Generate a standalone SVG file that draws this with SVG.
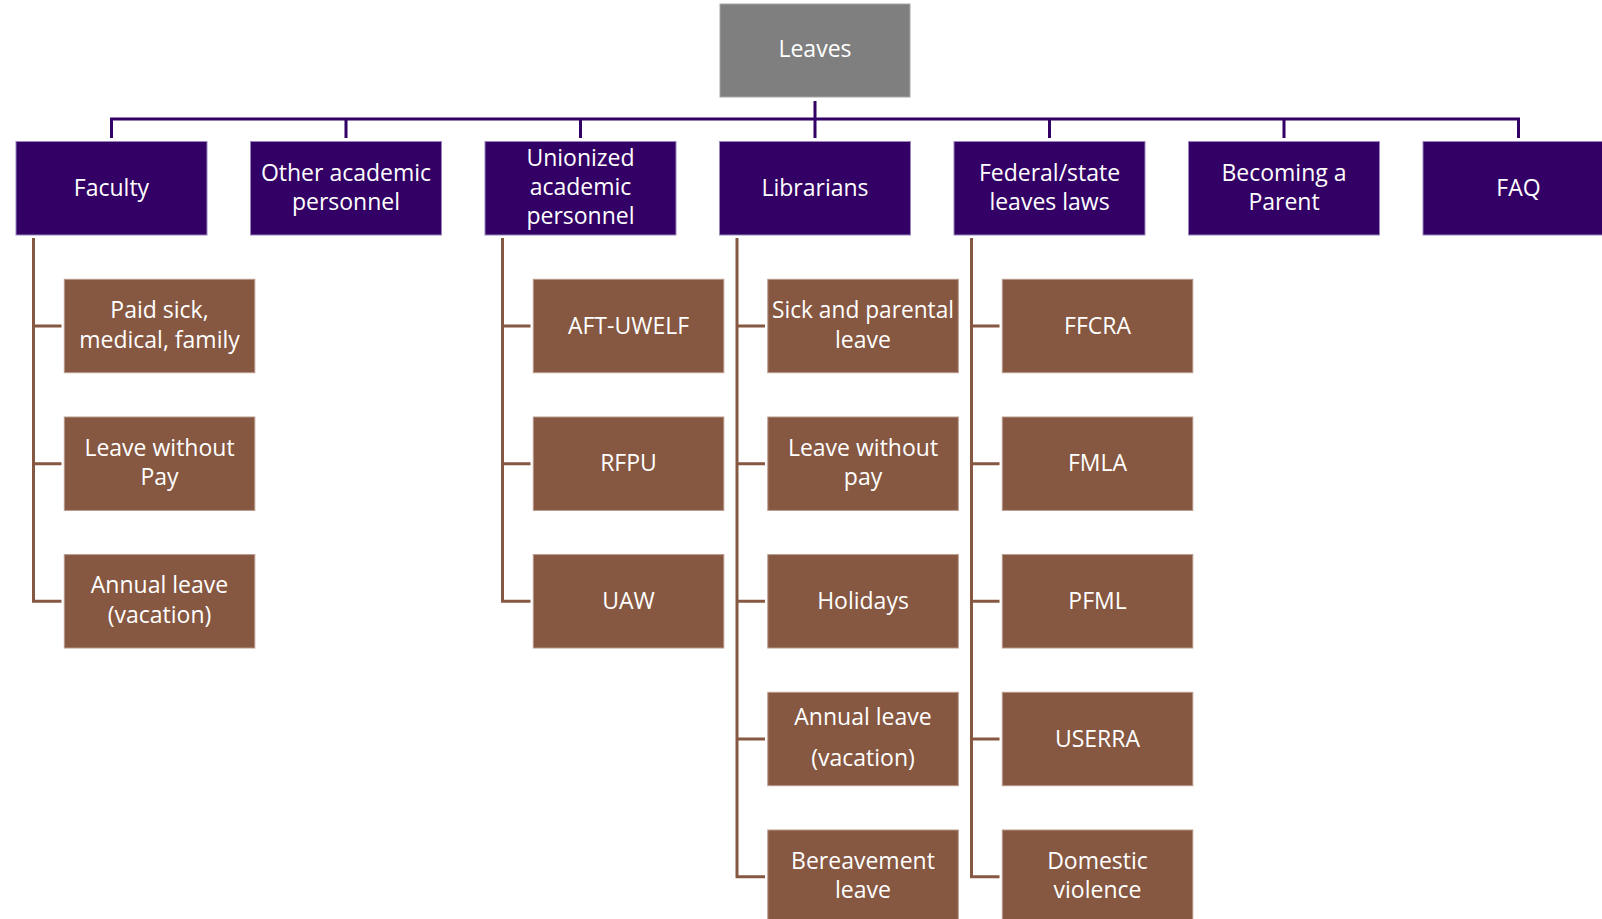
<svg xmlns="http://www.w3.org/2000/svg" width="1602" height="919" viewBox="0 0 1602 919">
<style>
.root{fill:#7f7f7f;stroke:#a6a6a6;stroke-width:1}
.top{fill:#330066;stroke:#9a86bc;stroke-width:1}
.sub{fill:#865741;stroke:#b8998a;stroke-width:1}
text{font-family:"Open Sans","Liberation Sans",sans-serif;font-size:23px;fill:#ffffff;text-anchor:middle}
.pl{fill:none;stroke:#330066;stroke-width:3}
.bl{fill:none;stroke:#865741;stroke-width:3}
</style>
<rect width="1602" height="919" fill="#ffffff"/>
<g id="connectors">
<path class="pl" d="M815,101V138M111.5,138V119H1518.5V138M346,119V138M580.5,119V138M1049.5,119V138M1284,119V138"/>
<path class="bl" d="M33.5,238V601.3H61.5M33.5,326H61.5M33.5,463.7H61.5"/>
<path class="bl" d="M502.5,238V601.3H530.5M502.5,326H530.5M502.5,463.7H530.5"/>
<path class="bl" d="M737,238V876.7H765M737,326H765M737,463.7H765M737,601.3H765M737,739H765"/>
<path class="bl" d="M971.5,238V876.7H999.5M971.5,326H999.5M971.5,463.7H999.5M971.5,601.3H999.5M971.5,739H999.5"/>
</g>
<g id="leaves"><rect class="root" x="720" y="4" width="190" height="93"/><text x="815" y="57">Leaves</text></g>
<g id="faculty"><rect class="top" x="16" y="141.5" width="191" height="93.5"/><text x="111.5" y="196">Faculty</text></g>
<g id="other"><rect class="top" x="250.5" y="141.5" width="191" height="93.5"/><text x="346" y="181">Other academic</text><text x="346" y="210">personnel</text></g>
<g id="unionized"><rect class="top" x="485" y="141.5" width="191" height="93.5"/><text x="580.5" y="166">Unionized</text><text x="580.5" y="195">academic</text><text x="580.5" y="224">personnel</text></g>
<g id="librarians"><rect class="top" x="719.5" y="141.5" width="191" height="93.5"/><text x="815" y="196">Librarians</text></g>
<g id="federal"><rect class="top" x="954" y="141.5" width="191" height="93.5"/><text x="1049.5" y="181">Federal/state</text><text x="1049.5" y="210">leaves laws</text></g>
<g id="parent"><rect class="top" x="1188.5" y="141.5" width="191" height="93.5"/><text x="1284" y="181">Becoming a</text><text x="1284" y="210">Parent</text></g>
<g id="faq"><rect class="top" x="1423" y="141.5" width="191" height="93.5"/><text x="1518.5" y="196">FAQ</text></g>

<g id="f1"><rect class="sub" x="64.3" y="279.3" width="190.5" height="93.4"/><text x="159.5" y="318">Paid sick,</text><text x="159.5" y="347.5">medical, family</text></g>
<g id="f2"><rect class="sub" x="64.3" y="417" width="190.5" height="93.4"/><text x="159.5" y="455.5">Leave without</text><text x="159.5" y="485">Pay</text></g>
<g id="f3"><rect class="sub" x="64.3" y="554.6" width="190.5" height="93.4"/><text x="159.5" y="593">Annual leave</text><text x="159.5" y="622.5">(vacation)</text></g>

<g id="u1"><rect class="sub" x="533.3" y="279.3" width="190.5" height="93.4"/><text x="628.5" y="333.5">AFT-UWELF</text></g>
<g id="u2"><rect class="sub" x="533.3" y="417" width="190.5" height="93.4"/><text x="628.5" y="471.2">RFPU</text></g>
<g id="u3"><rect class="sub" x="533.3" y="554.6" width="190.5" height="93.4"/><text x="628.5" y="608.8">UAW</text></g>

<g id="l1"><rect class="sub" x="767.8" y="279.3" width="190.5" height="93.4"/><text x="863" y="318" textLength="182" lengthAdjust="spacingAndGlyphs">Sick and parental</text><text x="863" y="347.5">leave</text></g>
<g id="l2"><rect class="sub" x="767.8" y="417" width="190.5" height="93.4"/><text x="863" y="455.5">Leave without</text><text x="863" y="485">pay</text></g>
<g id="l3"><rect class="sub" x="767.8" y="554.6" width="190.5" height="93.4"/><text x="863" y="608.8">Holidays</text></g>
<g id="l4"><rect class="sub" x="767.8" y="692.3" width="190.5" height="93.4"/><text x="863" y="724.5">Annual leave</text><text x="863" y="765.5">(vacation)</text></g>
<g id="l5"><rect class="sub" x="767.8" y="830" width="190.5" height="93.4"/><text x="863" y="868.5">Bereavement</text><text x="863" y="897.5">leave</text></g>

<g id="d1"><rect class="sub" x="1002.3" y="279.3" width="190.5" height="93.4"/><text x="1097.5" y="333.5">FFCRA</text></g>
<g id="d2"><rect class="sub" x="1002.3" y="417" width="190.5" height="93.4"/><text x="1097.5" y="471.2">FMLA</text></g>
<g id="d3"><rect class="sub" x="1002.3" y="554.6" width="190.5" height="93.4"/><text x="1097.5" y="608.8">PFML</text></g>
<g id="d4"><rect class="sub" x="1002.3" y="692.3" width="190.5" height="93.4"/><text x="1097.5" y="746.5">USERRA</text></g>
<g id="d5"><rect class="sub" x="1002.3" y="830" width="190.5" height="93.4"/><text x="1097.5" y="868.5">Domestic</text><text x="1097.5" y="897.5">violence</text></g>
</svg>
